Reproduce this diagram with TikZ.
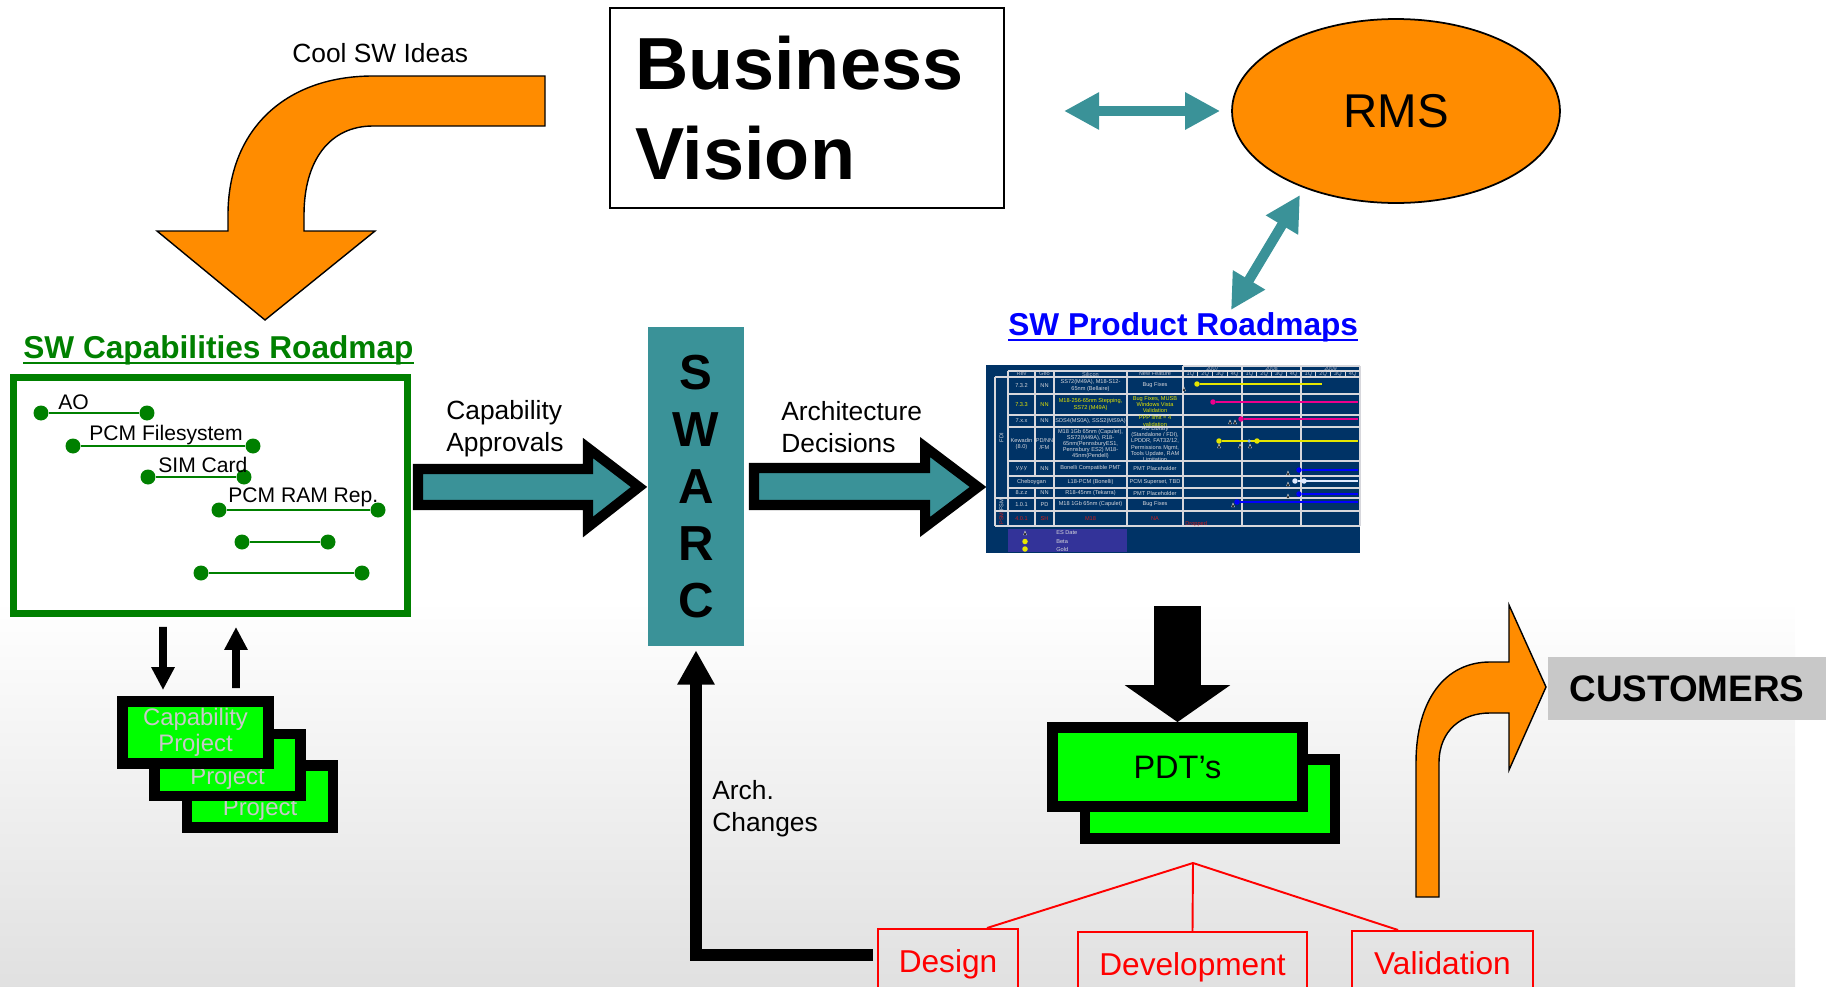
\documentclass[tikz,border=0pt]{standalone}
\usepackage{fontspec}
\setmainfont{Liberation Sans}
\usetikzlibrary{arrows.meta,shapes.geometric}

\definecolor{swgreen}{RGB}{0,128,0}
\definecolor{projgreen}{RGB}{0,255,0}
\definecolor{projtext}{RGB}{200,200,200}
\definecolor{sworange}{RGB}{255,140,0}
\definecolor{swteal}{RGB}{58,146,152}
\definecolor{custgray}{RGB}{200,200,200}
\definecolor{rmnavy}{RGB}{0,51,102}
\definecolor{rmpurple}{RGB}{51,51,153}
\definecolor{rmtext}{RGB}{215,215,220}
\definecolor{rmhead}{RGB}{180,185,200}
\definecolor{rmyel}{RGB}{230,230,0}
\definecolor{rmred}{RGB}{204,30,30}
\definecolor{rmwhite}{RGB}{225,235,255}
\definecolor{rmlight}{RGB}{150,190,240}

\tikzset{
  every node/.style={inner sep=0pt},
  txt/.style={font=\fontsize{15}{18.2}\selectfont, align=left, anchor=base west},
  smalltxt/.style={font=\fontsize{12}{14}\selectfont, anchor=base west},
  heading/.style={font=\fontsize{18}{22}\selectfont\bfseries, anchor=base west},
  capdot/.style={circle, fill=swgreen, minimum size=0.3cm},
  capline/.style={draw=swgreen, line width=1.7pt},
  projbox/.style={draw=black, line width=6.2pt, fill=projgreen, minimum width=2.92cm, minimum height=1.24cm, align=center, text=projtext, font=\fontsize{13.6}{14.6}\selectfont},
  pdtbox/.style={draw=black, line width=6.2pt, fill=projgreen, minimum width=5cm, minimum height=1.58cm, font=\fontsize{18.5}{22}\selectfont},
  redbox/.style={draw=red, line width=1.1pt, text=red, anchor=north, font=\fontsize{18}{22}\selectfont, text height=24.5pt, text depth=14pt},
  redline/.style={draw=red, line width=1.1pt},
  tealarrow/.style={draw=swteal, line width=5.7pt, {Triangle[length=20pt,width=20pt]}-{Triangle[length=20pt,width=20pt]}},
  blkarrow/.style={line width=4.5pt, -{Triangle[length=13pt,width=12.5pt]}},
  archarrow/.style={line width=6.3pt, line join=miter, -{Triangle[length=19.5pt,width=20pt]}},
  bigdown/.style={line width=26.7pt, -{Triangle[length=21pt,width=60pt,line width=0pt]}},
  blockarrow/.style={fill=swteal, draw=black, line width=5.7pt, line join=miter},
  orangearrow/.style={fill=sworange, draw=black, line width=0.8pt, line join=miter},
  rmcell/.style={font=\fontsize{3.2}{3.5}\selectfont, align=center},
  rmgrid/.style={draw=rmtext, line width=0.7pt},
  rmdot/.style={circle, minimum size=0.11cm},
}

\begin{document}
\begin{tikzpicture}[x=0.02cm, y=-0.02cm]

\useasboundingbox (0,0) rectangle (1827,987);
\clip (0,0) rectangle (1827,987);

% Hintergrund
\shade[top color=white, bottom color=black!12] (0,600) rectangle (1795,987);

% Business Vision
\node[draw, line width=1.2pt, minimum width=7.88cm, minimum height=4cm, text width=6.88cm, align=left,
      font=\fontsize{42}{51.2}\selectfont\bfseries] (vision) at (807,108) {Business\\Vision};

% RMS
\node[ellipse, draw, fill=sworange, line width=1pt, minimum width=6.56cm, minimum height=3.68cm,
      font=\fontsize{27}{32}\selectfont] (rms) at (1396,111) {RMS};
\draw[tealarrow, shorten <=1.18cm, shorten >=0.22cm] (vision.east |- rms) -- (rms.west);

% SW Product Roadmaps
\node[heading, text=blue] (prodtitle) at (1008,335) {SW Product Roadmaps};
\draw[blue, line width=1.6pt] ([yshift=-2.8pt]prodtitle.base west) -- ([yshift=-2.8pt]prodtitle.base east);
\coordinate (prodlink) at (1231,310);
\draw[tealarrow, shorten >=0.16cm] (prodlink) -- (rms.220);

% Cool SW Ideas
\node[txt] (coolideas) at (292,62) {Cool SW Ideas};
\draw[orangearrow] (545,76) -- (373,76) .. controls (285,76) and (228,130) .. (228,215) -- (228,231)
  -- (157,231) -- (265,320) -- (375,231) -- (304,231) -- (304,215)
  .. controls (304,160) and (330,126) .. (373,126) -- (545,126) -- cycle;

% SW Capabilities Roadmap
\node[heading, text=swgreen] (captitle) at (23,358) {SW Capabilities Roadmap};
\draw[swgreen, line width=1.6pt] ([yshift=-2.8pt]captitle.base west) -- ([yshift=-2.8pt]captitle.base east);
\node[draw=swgreen, line width=4pt, fill=white, minimum width=7.88cm, minimum height=4.74cm] (capbox) at (210.5,495.5) {};
\foreach \n/\xa/\xb/\yy in {1/41/147/413, 2/73/253/446, 3/148/244/477, 4/219/378/510, 5/242/328/542, 6/201/362/573} {
  \node[capdot] (cs\n) at (\xa,\yy) {};
  \node[capdot] (ce\n) at (\xb,\yy) {};
  \draw[capline] (cs\n) -- (ce\n);
}
\node[smalltxt] (aolbl) at (58,409) {AO};
\node[smalltxt] (fslbl) at (89,440) {PCM Filesystem};
\node[smalltxt] (simlbl) at (158,472) {SIM Card};
\node[smalltxt] (ramlbl) at (228,502) {PCM RAM Rep.};

% Capability Projects (die hinteren sind verdeckt)
\foreach \n/\xx/\yy in {3/260/796.5, 2/227.5/765}
  \node[projbox] (proj\n) at (\xx,\yy) {\phantom{Capability}\\Project};
\node[projbox] (proj1) at (195.5,732.5) {Capability\\Project};
\draw[blkarrow, shorten <=0.19cm, shorten >=0.12cm] ([xshift=-0.95cm]capbox.south) -- ([xshift=-0.65cm]proj1.north);
\draw[blkarrow, shorten <=0.16cm, shorten >=0.19cm] ([xshift=0.81cm]proj1.north) -- ([xshift=0.51cm]capbox.south);

% SWARC
\node[fill=swteal, minimum width=1.92cm, minimum height=6.38cm, align=center,
      font=\fontsize{28}{32.4}\selectfont\bfseries] (swarc) at (696,486.5) {S\\W\\A\\R\\C};

\draw[blockarrow] (418,469) -- (588,469) -- (588,448) -- (639,487) -- (588,527) -- (588,505) -- (418,505) -- cycle;
\node[txt] (capappr) at (446,451) {Capability\\Approvals};

\draw[blockarrow] (754,468) -- (925,468) -- (925,447) -- (978,487) -- (925,527) -- (925,505) -- (754,505) -- cycle;
\node[txt] (archdec) at (781,452) {Architecture\\Decisions};

% Roadmap Tabelle
\node[fill=rmnavy, minimum width=7.48cm, minimum height=3.76cm] (roadmap) at (1173,459) {};
\begin{scope}[rmgrid]
\draw (1183,366) -- (1360,366);
\draw (1008,371) -- (1360,371);
\draw (995,377) -- (1360,377);
\foreach \yy in {394,415,427,461,476,488} \draw (1008,\yy) -- (1360,\yy);
\foreach \yy in {498,511,526} \draw (995,\yy) -- (1360,\yy);
\draw (995,377) -- (995,526);
\draw (1008,371) -- (1008,526);
\draw (1035,371) -- (1035,476);
\draw (1035,488) -- (1035,526);
\foreach \xx in {1054,1127} \draw (\xx,371) -- (\xx,526);
\foreach \xx in {1183,1242,1301,1360} \draw (\xx,366) -- (\xx,526);
\foreach \k in {1,...,11} \draw ({1183+14.75*\k},371) -- ({1183+14.75*\k},377);
\end{scope}
\foreach \n/\xx/\yy/\cc/\celltext in {
  hr/1021.5/374/rmhead/{Rev}, hg/1044.5/374/rmhead/{Geo}, hs/1090.5/374/rmhead/{Silicon}, hf/1155/374/rmhead/{New Feature},
  y7/1212.5/368.5/rmhead/{2007}, y8/1271.5/368.5/rmhead/{2008}, y9/1330.5/368.5/rmhead/{2009},
  a1/1021.5/385.5/rmtext/{7.3.2}, a2/1044.5/385.5/rmtext/{NN},
  a3/1090.5/385.5/rmtext/{SS72(M49A), M18-S12-\\65nm (Bellaire)}, a4/1155/385.5/rmtext/{Bug Fixes},
  b1/1021.5/404.5/rmyel/{7.3.3}, b2/1044.5/404.5/rmyel/{NN},
  b3/1090.5/404.5/rmyel/{M18-256-65nm Stepping,\\SS72 (M49A)}, b4/1155/404.5/rmyel/{Bug Fixes, MUSB\\Windows Vista\\Validation},
  c1/1021.5/421/rmtext/{7.x.x}, c2/1044.5/421/rmtext/{NN},
  c3/1090.5/421/rmtext/{SDS4(MS0A), SSS2(MS9A)}, c4/1155/421/rmyel/{PPP limit = 4\\validation},
  d1/1021.5/444/rmtext/{Kewadin\\(8.0)}, d2/1044.5/444/rmtext/{PD/NN\\/FM},
  d3/1090.5/444/rmtext/{M18 1Gb 65nm (Capulet),\\SS72(M49A), R18-\\65nm(PennsburyES1,\\Pennsbury ES2) M18-\\45nm(Pendell)},
  d4/1155/444/rmtext/{AO Library\\(Standalone / FDI),\\LPDDR, FAT32/12,\\Permissions Mgmt,\\Tools Update, RAM\\Limitation},
  e1/1021.5/468.5/rmtext/{y.y.y}, e2/1044.5/468.5/rmtext/{NN},
  e3/1090.5/468.5/rmtext/{Bonelli Compatible PMT}, e4/1155/468.5/rmtext/{PMT Placeholder},
  f1/1031.5/482/rmtext/{Cheboygan}, f3/1090.5/482/rmtext/{L18-PCM (Bonelli)}, f4/1155/482/rmtext/{PCM Superset, TBD},
  g1/1021.5/493/rmtext/{8.z.z}, g2/1044.5/493/rmtext/{NN},
  g3/1090.5/493/rmtext/{R18-45nm (Tekarra)}, g4/1155/493/rmtext/{PMT Placeholder},
  h1/1021.5/504.5/rmtext/{1.0.1}, h2/1044.5/504.5/rmtext/{PD},
  h3/1090.5/504.5/rmtext/{M18 1Gb 65nm (Capulet)}, h4/1155/504.5/rmtext/{Bug Fixes},
  i1/1021.5/518.5/rmred/{4.0.1}, i2/1044.5/518.5/rmred/{SH}, i3/1090.5/518.5/rmred/{M18}, i4/1155/518.5/rmred/{NA}}
  \node[rmcell, text=\cc] (rm\n) at (\xx,\yy) {\celltext};
\foreach \k [evaluate=\k as \qq using {int(mod(\k,4)+1)}] in {0,...,11}
  \node[rmcell, text=rmhead] (rmq\k) at ({1190.4+14.75*\k},374) {\qq Q};
\node[rmcell, text=rmtext, rotate=90] (rmfdi) at (1001.5,437.5) {FDI};
\node[rmcell, text=rmtext, rotate=90] (rmfsm) at (1001.5,504.5) {FSM};
\node[rmcell, text=rmred, rotate=90] (rmpsm) at (1001.5,518.5) {PSM};
\node[rmcell, text=rmred, anchor=west] (rmdrop) at (1185,524) {Dropped};
% Balken
\foreach \n/\xa/\xb/\yy/\cc in {1/1197/1322/384/rmyel, 2/1213/1358/402/magenta, 3/1241/1358/419/magenta, 4/1219/1358/441/rmyel,
    5/1299/1358/470/blue, 6/1295/1358/481/rmwhite, 7/1299/1358/494/blue, 8/1237/1358/502/blue} {
  \node[rmdot, fill=\cc] (bar\n) at (\xa,\yy) {};
  \coordinate (barend\n) at (\xb,\yy);
  \draw[\cc, line width=1.1pt] (bar\n) -- (barend\n);
}
\node[rmdot, fill=rmlight, minimum size=0.07cm] (bar4b) at (1249,441) {};
\node[rmdot, fill=rmyel] (bar4c) at (1257,441) {};
\node[rmdot, fill=rmwhite] (bar6b) at (1304,481) {};
\foreach \xx/\yy in {1184/389, 1230/422, 1235/422, 1219/446, 1240/446, 1250/446, 1288/473, 1288/484, 1288/496, 1233/505}
  \filldraw[draw=white, fill=black, line width=0.2pt] ({\xx-1.5},{\yy+2}) -- (\xx,{\yy-2}) -- ({\xx+1.5},{\yy+2}) -- cycle;
% Legende
\node[fill=rmpurple, minimum width=2.38cm, minimum height=0.46cm] (rmlegend) at (1067.5,540.5) {};
\node[rmcell, text=rmtext, anchor=west] (rmes) at (1056,533) {ES Date};
\node[rmcell, text=rmtext, anchor=west] (rmbeta) at (1056,541.5) {Beta};
\node[rmcell, text=rmtext, anchor=west] (rmgold) at (1056,549) {Gold};
\filldraw[draw=white, fill=black, line width=0.2pt] (1023.5,535) -- (1025,531) -- (1026.5,535) -- cycle;
\node[rmdot, fill=rmyel] (rmbetadot) at (1025,541.5) {};
\node[rmdot, fill=rmyel] (rmgolddot) at (1025,549) {};

% PDT's
\node[pdtbox] (pdt2) at (1210,799) {};
\node[pdtbox] (pdt1) at (1177.5,767) {PDT’s};
\draw[bigdown, shorten <=1.06cm] (roadmap.south -| pdt1.north) -- (pdt1.north);

% Design / Development / Validation
\coordinate (split) at (1193,863);
\node[redbox, minimum width=2.8cm] (design) at (948,928) {Design};
\node[redbox, minimum width=4.58cm] (devel) at (1192.5,931) {Development};
\node[redbox, minimum width=3.62cm] (valid) at (1442.5,930) {Validation};
\draw[redline] (split) -- ([xshift=0.78cm]design.north);
\draw[redline] (split) -- (devel.north);
\draw[redline] (split) -- ([xshift=-0.89cm]valid.north);

% Arch. Changes
\coordinate (archbend) at (0,955);
\draw[archarrow, shorten <=0.08cm, shorten >=0.08cm] (design.west |- archbend) -| (swarc.south);
\node[txt] (archchg) at (712,831) {Arch.\\Changes};

% CUSTOMERS
\node[fill=custgray, minimum width=5.56cm, minimum height=1.26cm, font=\fontsize{21}{25}\selectfont\bfseries] (cust) at (1687,688.5) {CUSTOMERS};
\draw[orangearrow] (1416,897) -- (1416,763) .. controls (1416,700) and (1445,662) .. (1490,662) -- (1509,662)
  -- (1509,605) -- (1546,687) -- (1509,770) -- (1509,713) -- (1490,713)
  .. controls (1462,713) and (1439,730) .. (1439,763) -- (1439,897) -- cycle;

\end{tikzpicture}
\end{document}
